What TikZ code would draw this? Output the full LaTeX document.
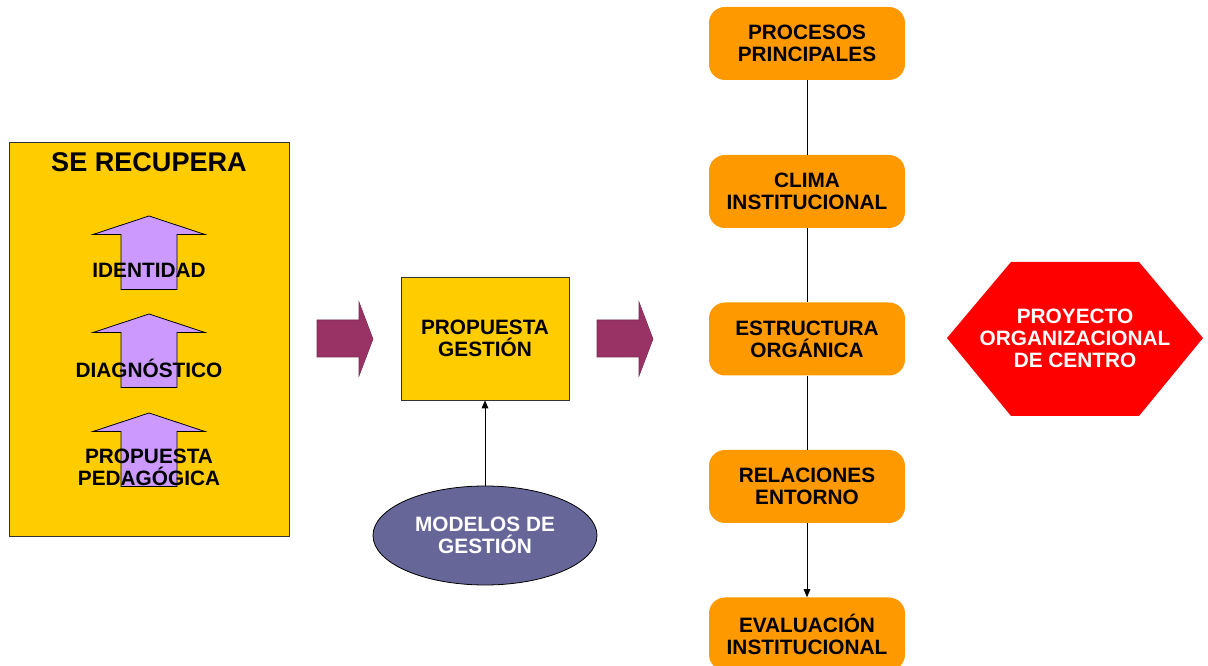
\documentclass[tikz,border=0pt]{standalone}
\usepackage{fontspec}
\setmainfont{Liberation Sans}
\usepackage{tikz}
\usetikzlibrary{shapes.geometric, positioning, arrows.meta}
\usepackage{xcolor}
\definecolor{amarillo}{HTML}{FFCC00}
\definecolor{lila}{HTML}{CC99FF}
\definecolor{granate}{HTML}{993366}
\definecolor{azulgris}{HTML}{666699}
\definecolor{naranja}{HTML}{FF9900}
\definecolor{rojo}{HTML}{FF0000}
\tikzset{
  txt/.style={font=\fontsize{15.6}{16.5}\selectfont\bfseries, align=center, inner sep=0pt},
  caja/.style={txt, draw=black!80, line width=0.6pt, fill=amarillo},
  proceso/.style={txt, fill=naranja, rounded corners=12pt, minimum width=147pt, minimum height=54.75pt},
  flechagorda/.style={fill=granate, draw=granate!80!black, line width=0.4pt},
  flechalila/.style={fill=lila, draw=black, line width=0.6pt},
  punta/.style={-{Triangle[width=5pt,length=6pt]}, line width=0.6pt}
}

\begin{document}
\begin{tikzpicture}[x=0.75pt,y=0.75pt,yscale=-1,xscale=1]
        \useasboundingbox (0,0) rectangle (1208,666);
        % Rectangle: se recupera
        \node [caja, minimum width=210pt, minimum height=295.5pt] (recupera) at (149,339) {};
        % Text Node
        \node [txt, font=\fontsize{20.3}{22}\selectfont\bfseries] (titulo) at (149,162) {SE RECUPERA};
        % Up Arrows
        \foreach \y in {216,314,413} {
          \draw [flechalila] (149,\y) -- (205,\y+18.5) -- (177,\y+18.5) -- (177,\y+73.5) -- (121,\y+73.5) -- (121,\y+18.5) -- (93,\y+18.5) -- cycle ;
        }
        % Text Node
        \node [txt] (identidad) at (149,270) {IDENTIDAD};
        % Text Node
        \node [txt] (diagnostico) at (149,368) {DIAGNÓSTICO};
        % Text Node
        \node [txt] (pedagogica) at (149,467) {PROPUESTA\\PEDAGÓGICA};
        % Right Arrows
        \draw [flechagorda] (317,320) -- (359,320) -- (359,302) -- (373,339) -- (359,376) -- (359,357) -- (317,357) -- cycle ;
        \draw [flechagorda] (597,320) -- (639,320) -- (639,302) -- (653,339) -- (639,376) -- (639,357) -- (597,357) -- cycle ;
        % Rectangle: propuesta gestion
        \node [caja, minimum width=126pt, minimum height=92.25pt] (gestion) at (485,338.5) {};
        \node [txt] (gestiontxt) at (485,338) {PROPUESTA\\GESTIÓN};
        % Ellipse: modelos
        \node [txt, ellipse, draw=black, line width=0.6pt, fill=azulgris, text=white, minimum width=168pt, minimum height=74.25pt] (modelos) at (485,535.5) {MODELOS DE\\GESTIÓN};
        \draw [punta] (modelos.north) -- (gestion.south) ;
        % Rounded Rectangles
        \node [proceso] (procesos) at (807,43.5) {PROCESOS\\PRINCIPALES};
        \node [proceso] (clima) at (807,191.5) {CLIMA\\INSTITUCIONAL};
        \node [proceso] (estructura) at (807,339) {ESTRUCTURA\\ORGÁNICA};
        \node [proceso] (relaciones) at (807,486.5) {RELACIONES\\ENTORNO};
        \node [proceso] (evaluacion) at (807,634) {EVALUACIÓN\\INSTITUCIONAL};
        \draw [line width=0.6pt] (procesos) -- (clima) ;
        \draw [line width=0.6pt] (clima) -- (estructura) ;
        \draw [line width=0.6pt] (estructura) -- (relaciones) ;
        \draw [punta] (relaciones) -- (evaluacion) ;
        % Hexagon: proyecto
        \fill [rojo] (947,338) -- (1011,262) -- (1139,262) -- (1203,338) -- (1139,416) -- (1011,416) -- cycle ;
        % Text Node
        \node [txt, text=white] (proyecto) at (1075,338) {PROYECTO\\ORGANIZACIONAL\\DE CENTRO};
\end{tikzpicture}
\end{document}
